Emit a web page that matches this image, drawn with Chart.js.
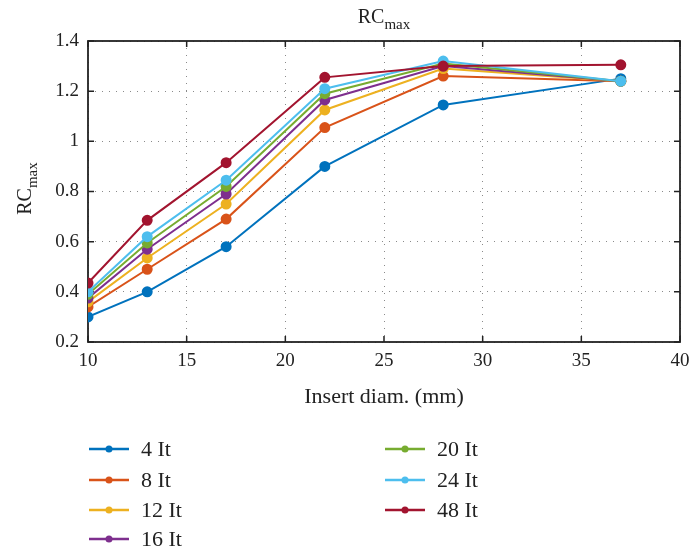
<!DOCTYPE html>
<html lang="en">
<head>
  <meta charset="UTF-8">
  <title>RCmax</title>
  <style>
    html, body { margin: 0; padding: 0; background: #fff; }
    #grafico { display: block; }
  </style>
</head>
<body>
  <canvas id="grafico" width="692" height="550"></canvas>

  <script src="https://cdn.jsdelivr.net/npm/chart.js"></script>
  <script>
    // dados
    const diametros = [10, 13, 17, 22, 28, 37];
    const it4  = [0.30, 0.40, 0.58, 0.90, 1.145, 1.25];
    const it8  = [0.34, 0.49, 0.69, 1.055, 1.26, 1.24];
    const it12 = [0.36, 0.535, 0.75, 1.125, 1.29, 1.24];
    const it16 = [0.375, 0.57, 0.79, 1.165, 1.30, 1.24];
    const it20 = [0.39, 0.595, 0.82, 1.19, 1.31, 1.24];
    const it24 = [0.40, 0.62, 0.845, 1.21, 1.32, 1.24];
    const it48 = [0.435, 0.685, 0.915, 1.255, 1.30, 1.305];

    const nomes = ['4 It', '8 It', '12 It', '16 It', '20 It', '24 It', '48 It'];
    const series = [it4, it8, it12, it16, it20, it24, it48];
    const cores = ['#0072BD', '#D95319', '#EDB120', '#7E2F8E', '#77AC30', '#4DBEEE', '#A2142F'];

    const xTicks = [10, 15, 20, 25, 30, 35, 40];
    const yTicks = [0.2, 0.4, 0.6, 0.8, 1.0, 1.2, 1.4];

    const FONTE = '"Liberation Serif", "DejaVu Serif", serif';

    // texto com subscrito (RC_max)
    function textoSub(ctx, base, sub, x, y, tam, rot) {
      ctx.save();
      ctx.translate(x, y);
      ctx.rotate(rot || 0);
      ctx.fillStyle = '#222';
      ctx.textBaseline = 'alphabetic';
      ctx.textAlign = 'left';
      ctx.font = tam + 'px ' + FONTE;
      const w1 = ctx.measureText(base).width;
      const tamSub = Math.round(tam * 0.75);
      ctx.font = tamSub + 'px ' + FONTE;
      const w2 = ctx.measureText(sub).width;
      const x0 = -(w1 + w2) / 2;
      ctx.font = tam + 'px ' + FONTE;
      ctx.fillText(base, x0, 0);
      ctx.font = tamSub + 'px ' + FONTE;
      ctx.fillText(sub, x0 + w1, tam * 0.3);
      ctx.restore();
    }

    const moldura = {
      id: 'moldura',
      beforeDatasetsDraw(chart) {
        const { ctx, chartArea: a, scales } = chart;
        ctx.save();
        ctx.strokeStyle = '#222';
        ctx.lineWidth = 1.5;
        ctx.beginPath();
        xTicks.forEach(v => {
          const px = scales.x.getPixelForValue(v);
          ctx.moveTo(px, a.bottom); ctx.lineTo(px, a.bottom - 6);
          ctx.moveTo(px, a.top); ctx.lineTo(px, a.top + 6);
        });
        yTicks.forEach(v => {
          const py = scales.y.getPixelForValue(v);
          ctx.moveTo(a.left, py); ctx.lineTo(a.left + 6, py);
          ctx.moveTo(a.right, py); ctx.lineTo(a.right - 6, py);
        });
        ctx.stroke();
        ctx.lineWidth = 1.8;
        ctx.strokeRect(a.left, a.top, a.right - a.left, a.bottom - a.top);
        ctx.restore();
      },
      afterDraw(chart) {
        const { ctx, chartArea: a } = chart;
        // titulos
        textoSub(ctx, 'RC', 'max', (a.left + a.right) / 2, 23, 20, 0);
        textoSub(ctx, 'RC', 'max', 31, (a.top + a.bottom) / 2 - 3, 20, -Math.PI / 2);

        // legenda em duas colunas
        const linhas = [449, 480, 510, 539];
        const colunas = [89, 385];
        ctx.save();
        ctx.font = '22px ' + FONTE;
        ctx.textBaseline = 'middle';
        ctx.textAlign = 'left';
        nomes.forEach((nome, i) => {
          const col = i < 4 ? 0 : 1;
          const lin = i < 4 ? i : i - 4;
          const x = colunas[col], y = linhas[lin];
          ctx.strokeStyle = cores[i];
          ctx.fillStyle = cores[i];
          ctx.lineWidth = 2.5;
          ctx.beginPath();
          ctx.moveTo(x, y); ctx.lineTo(x + 40, y);
          ctx.stroke();
          ctx.beginPath();
          ctx.arc(x + 20, y, 3.5, 0, Math.PI * 2);
          ctx.fill();
          ctx.fillStyle = '#222';
          ctx.fillText(nome, x + 52, y + 1);
        });
        ctx.restore();
      }
    };

    const ctx = document.getElementById('grafico').getContext('2d');
    new Chart(ctx, {
      type: 'line',
      data: {
        datasets: series.map((s, i) => ({
          label: nomes[i],
          data: diametros.map((d, j) => ({ x: d, y: s[j] })),
          borderColor: cores[i],
          backgroundColor: cores[i],
          borderWidth: 2,
          pointRadius: 4.5,
          pointHoverRadius: 4.5,
          order: series.length - 1 - i
        }))
      },
      options: {
        responsive: false,
        animation: false,
        layout: { padding: { left: 0, right: 12, top: 41, bottom: 138 } },
        plugins: {
          legend: { display: false },
          tooltip: { enabled: false }
        },
        scales: {
          x: {
            type: 'linear',
            min: 10, max: 40,
            afterFit: s => { s.height = 70; s.paddingLeft = 0; s.paddingRight = 0; },
            afterBuildTicks: s => { s.ticks = xTicks.map(v => ({ value: v })); },
            border: { display: false, dash: [1, 6] },
            grid: {
              color: '#8a8a8a',
              lineWidth: 1,
              drawTicks: false
            },
            ticks: {
              padding: 8,
              color: '#222',
              font: { family: FONTE, size: 19 }
            },
            title: {
              display: true,
              text: 'Insert diam. (mm)',
              color: '#222',
              font: { family: FONTE, size: 22 },
              padding: { top: 0, bottom: 2 }
            }
          },
          y: {
            type: 'linear',
            min: 0.2, max: 1.4,
            afterFit: s => { s.width = 88; s.paddingTop = 0; s.paddingBottom = 0; },
            afterBuildTicks: s => { s.ticks = yTicks.map(v => ({ value: v })); },
            border: { display: false, dash: [1, 6] },
            grid: {
              color: '#8a8a8a',
              lineWidth: 1,
              drawTicks: false
            },
            ticks: {
              padding: 9,
              color: '#222',
              font: { family: FONTE, size: 19 },
              callback: v => String(+v.toFixed(1))
            }
          }
        }
      },
      plugins: [moldura]
    });
  </script>
</body>
</html>
